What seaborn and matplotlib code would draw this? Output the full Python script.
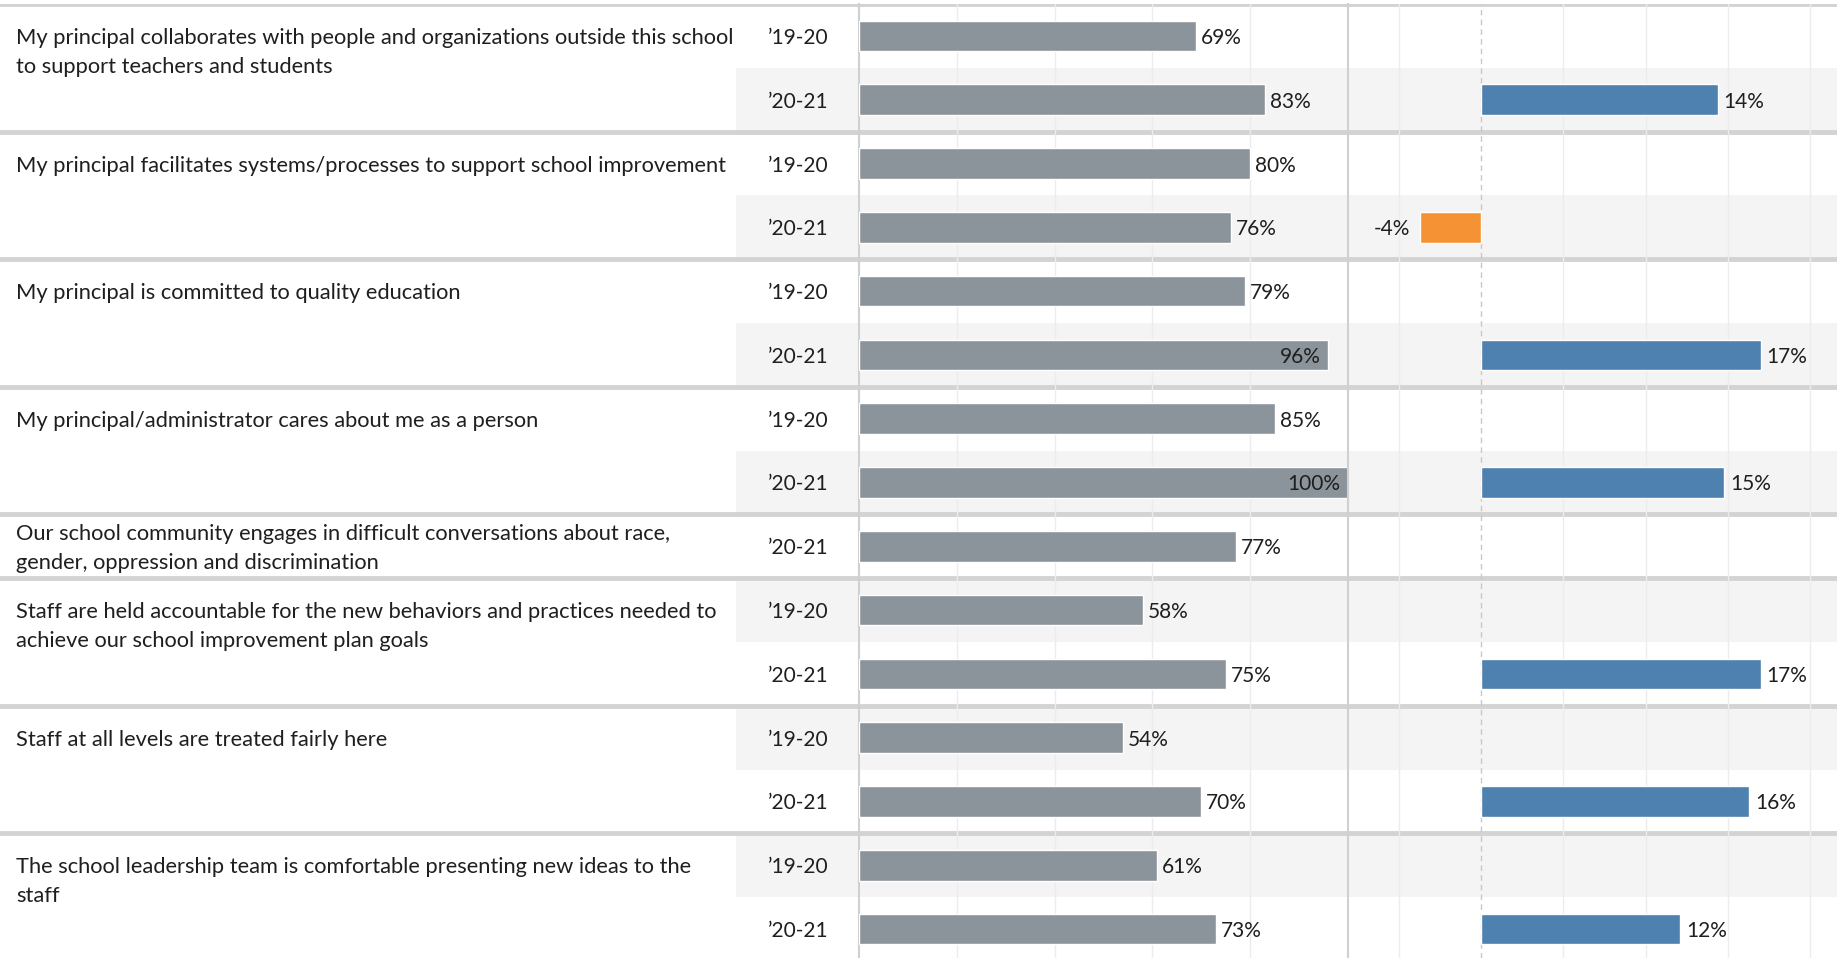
import numpy as np
import pandas as pd
import matplotlib.pyplot as plt
import seaborn as sns

questions = [
    "My principal collaborates with people and organizations outside this school\nto support teachers and students",
    "My principal facilitates systems/processes to support school improvement",
    "My principal is committed to quality education",
    "My principal/administrator cares about me as a person",
    "Our school community engages in difficult conversations about race,\ngender, oppression and discrimination",
    "Staff are held accountable for the new behaviors and practices needed to\nachieve our school improvement plan goals",
    "Staff at all levels are treated fairly here",
    "The school leadership team is comfortable presenting new ideas to the\nstaff",
]
year_labels = ["\u201919-20", "\u201920-21"]
score_1920 = [69, 80, 79, 85, None, 58, 54, 61]
score_2021 = [83, 76, 96, 100, 77, 75, 70, 73]
change = [14.4, -3.7, 17.0, 14.8, None, 17.0, 16.3, 12.1]

GRAY = "#8c949b"
BLUE = "#4e80b0"
ORANGE = "#f59234"
BAND = "#f4f4f4"
SEP = "#d3d3d3"
GRID = "#ececec"

# one row per (question, year)
rows = []
for qi, q in enumerate(questions):
    pairs = [(year_labels[0], score_1920[qi], None), (year_labels[1], score_2021[qi], change[qi])]
    for year, score, diff in pairs:
        if score is None:
            continue
        rows.append({"q": qi, "year": year, "score": score, "diff": diff})
df = pd.DataFrame(rows)
df["row"] = ["r%d" % i for i in range(len(df))]
df["diff"] = pd.to_numeric(df["diff"])
df["sign"] = np.where(df["diff"] < 0, "neg", "pos")
order = list(df["row"])
n = len(df)

W, H = 1837, 958
fig = plt.figure(figsize=(W / 100, H / 100), dpi=100)
sns.set_style("white")
plt.rcParams["font.family"] = ["Lato", "DejaVu Sans"]
FS_Q = 15.75
FS = 15
TXT = "#1f1f1f"

ROW_PX = 63.8
top_px = 4
y_top, y_bot = -0.5, -0.5 + (H - top_px) / ROW_PX


def fig_rect(x0, x1):
    return [x0 / W, 0, (x1 - x0) / W, (H - top_px) / H]


# background axes: bands, separators, question text, year labels
bg = fig.add_axes(fig_rect(0, W))
bg.set_xlim(0, W)
bg.set_ylim(y_bot, y_top)
bg.axis("off")
for i in range(n):
    if i % 2 == 1:
        bg.fill_between([736, W], i - 0.5, i + 0.5, color=BAND, lw=0, zorder=0)
    bg.text(768, i, df["year"][i], fontsize=FS, va="center_baseline", ha="left", color=TXT)

line_h = 0.45
counts = df.groupby("q")["row"].count()
r0 = 0
bg.axhline(-0.5, color=SEP, lw=3.5, zorder=3)
for qi, q in enumerate(questions):
    cnt = counts[qi]
    lines = q.split("\n")
    if cnt == 1:
        ys = [r0 + (k - (len(lines) - 1) / 2) * line_h for k in range(len(lines))]
    else:
        ys = [r0 + k * line_h for k in range(len(lines))]
    for line, yy in zip(lines, ys):
        bg.text(16, yy, line, fontsize=FS_Q, va="center_baseline", ha="left", color=TXT)
    r0 += cnt
    bg.axhline(r0 - 0.5, color=SEP, lw=3.5, zorder=3)

# panel 1: scores
ax1 = fig.add_axes(fig_rect(859, 1348))
ax1.patch.set_alpha(0)
sns.barplot(data=df, x="score", y="row", order=order, color=GRAY, width=0.48,
            orient="h", saturation=1, ax=ax1, zorder=3)
ax1.set_xlim(0, 100)
ax1.set_ylim(y_bot, y_top)
for xv in [20, 40, 60, 80]:
    ax1.axvline(xv, color=GRID, lw=1, zorder=1)
for i, v in enumerate(df["score"]):
    if v > 90:
        ax1.text(v - 1.6, i, "%d%%" % v, fontsize=FS, va="center_baseline", ha="right", color=TXT, zorder=4)
    else:
        ax1.text(v + 1.0, i, "%d%%" % v, fontsize=FS, va="center_baseline", ha="left", color=TXT, zorder=4)

# panel 2: change
ax2 = fig.add_axes(fig_rect(1348, W))
ax2.patch.set_alpha(0)
sns.barplot(data=df, x="diff", y="row", hue="sign", order=order,
            palette={"pos": BLUE, "neg": ORANGE}, width=0.48, dodge=False,
            orient="h", saturation=1, legend=False, ax=ax2, zorder=3)
ax2.set_xlim(-8.1, 21.65)
ax2.set_ylim(y_bot, y_top)
for xv in [-5, 5, 10, 15, 20]:
    ax2.axvline(xv, color=GRID, lw=1, zorder=1)
ax2.axvline(0, color="#c8c8c8", lw=1, ls=(0, (4, 3)), zorder=2)
for i, v in enumerate(df["diff"]):
    if pd.isna(v):
        continue
    if v < 0:
        ax2.text(v - 0.6, i, "%.0f%%" % v, fontsize=FS, va="center_baseline", ha="right", color=TXT, zorder=4)
    else:
        ax2.text(v + 0.35, i, "%.0f%%" % v, fontsize=FS, va="center_baseline", ha="left", color=TXT, zorder=4)

for ax in [ax1, ax2]:
    ax.set_xlabel("")
    ax.set_ylabel("")
    ax.set_xticks([])
    ax.set_yticks([])
    for s in ["top", "bottom", "right"]:
        ax.spines[s].set_visible(False)
    ax.spines["left"].set_color("#d0d0d0")
    ax.spines["left"].set_linewidth(1.5)

fig.savefig("out.png", dpi=100)
